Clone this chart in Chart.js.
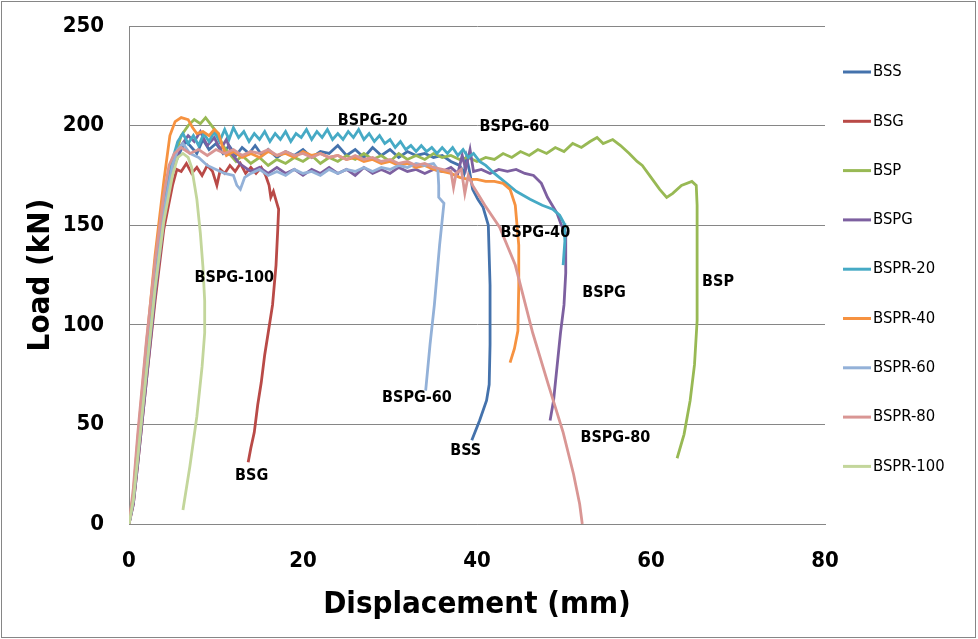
<!DOCTYPE html>
<html>
<head>
<meta charset="utf-8">
<script src="https://cdn.jsdelivr.net/npm/chart.js@4.4.0/dist/chart.umd.min.js"></script>
<style>
  html, body { margin: 0; padding: 0; background: #fff; }
  #wrap { width: 978px; height: 639px; position: relative; }
</style>
</head>
<body>
<div id="wrap"><canvas id="loadChart"></canvas></div>
<script>
// displacement (mm), load (kN) pairs
const BSS = [[0,0],[0.5,12],[1,35],[2,78],[3,120],[4,155],[5,178],[6,188],[6.5,192],[7,190],[7.8,186],[8.5,193],[9.2,188],[10,191],[10.8,186],[11.5,190],[12.3,185],[13,189],[13.8,186],[14.5,190],[15.3,185],[16,188],[17,184],[18,187],[19,185],[20,188],[21,184],[22,187],[23,186],[24,190],[25,185],[26,188],[27,184],[28,189],[29,185],[30,188],[31,184],[32,187],[33,185],[34,186],[35,184],[36,185],[37,182],[38,180],[38.5,176],[38.8,184],[39.1,178],[39.5,168],[40.1,163],[40.7,159],[41.3,150],[41.5,120],[41.5,90],[41.4,70],[41.1,62],[40.3,52],[39.4,42]];
const BSG = [[0,0],[0.5,10],[1,30],[2,72],[3,112],[4,148],[5,170],[5.5,178],[6,177],[6.6,181],[7.2,176],[7.8,179],[8.4,175],[9,180],[9.6,177],[10.1,170],[10.5,178],[11,176],[11.6,180],[12.2,177],[12.8,181],[13.4,176],[14,179],[14.6,176],[15.2,179],[15.7,175],[16.1,170],[16.3,164],[16.6,167],[17,161],[17.2,158],[17.1,148],[16.9,130],[16.5,110],[16,96],[15.6,85],[15.2,71],[14.8,60],[14.4,46],[14,38],[13.7,31]];
const BSP = [[0,0],[0.5,12],[1,32],[2,75],[3,118],[4,155],[5,180],[6,195],[6.8,200],[7.5,203],[8.2,201],[8.8,204],[9.5,200],[10.2,196],[10.8,190],[11.5,186],[12.3,182],[13,185],[14,181],[15,184],[16,180],[17,183],[18,181],[19,184],[20,182],[21,185],[22,181],[23,184],[24,182],[25,185],[26,183],[27,186],[28,183],[29,185],[30,182],[31,186],[32,183],[33,185],[34,183],[35,186],[36,184],[37,185],[38,183],[39,184],[40,182],[41,184],[42,183],[43,186],[44,184],[45,187],[46,185],[47,188],[48,186],[49,189],[50,187],[51,191],[52,189],[53,192],[53.8,194],[54.5,191],[55.6,193],[56.5,190],[57.5,186],[58.4,182],[59,180],[60,174],[61,168],[61.8,164],[62.5,166],[63.5,170],[64.7,172],[65.2,170],[65.3,160],[65.3,130],[65.3,102],[65,80],[64.5,62],[63.8,45],[63,33]];
const BSPG = [[0,0],[0.5,10],[1,30],[2,72],[3,115],[4,152],[5,178],[6,190],[6.8,195],[7.5,192],[8.2,197],[9,190],[9.8,194],[10.5,188],[11.2,193],[11.8,186],[12.5,182],[13,180],[14,177],[15,179],[16,176],[17,179],[18,176],[19,178],[20,175],[21,178],[22,176],[23,179],[24,176],[25,178],[26,175],[27,179],[28,176],[29,178],[30,176],[31,179],[32,177],[33,178],[34,176],[35,178],[36,177],[37,179],[37.8,176],[38.3,185],[38.7,178],[39.2,188],[39.6,177],[40.5,178],[41.5,176],[42.5,178],[43.5,177],[44.5,178],[45.5,176],[46.5,175],[47.4,171],[48.1,164],[49.2,156],[49.7,150],[50.2,146],[50.2,126],[50,110],[49.6,96],[49.2,79],[48.8,62],[48.4,52]];
const BSPR20 = [[0,0],[0.5,14],[1,38],[2,82],[3,125],[4,160],[5,183],[5.6,192],[6.2,196],[6.8,191],[7.4,195],[8,190],[8.6,196],[9.2,192],[9.8,197],[10.4,192],[11,198],[11.5,193],[12,199],[12.6,194],[13.2,197],[13.8,192],[14.4,196],[15,193],[15.6,197],[16.2,192],[16.8,196],[17.4,193],[18,197],[18.6,192],[19.2,196],[19.8,194],[20.4,198],[21,193],[21.6,197],[22.2,194],[22.8,198],[23.4,193],[24,196],[24.6,193],[25.2,197],[25.8,194],[26.4,198],[27,193],[27.6,196],[28.2,192],[28.8,195],[29.4,191],[30,193],[30.6,189],[31.2,192],[31.8,188],[32.4,190],[33,187],[33.6,190],[34.2,187],[34.8,189],[35.4,186],[36,189],[36.6,186],[37.2,189],[37.8,185],[38.4,188],[39,184],[39.6,186],[40.3,182],[41,180],[42,176],[43.4,171],[44.5,167],[46.1,163],[47.5,160],[48.7,158],[49.5,155],[50,151],[50.1,142],[49.9,130]];
const BSPR40 = [[0,0],[0.5,15],[1,42],[2,90],[3,135],[4,172],[4.7,195],[5.3,202],[6,204],[6.8,203],[7.3,199],[7.8,196],[8.5,197],[9.2,195],[9.8,198],[10.3,196],[10.7,190],[11.2,185],[12,187],[13,184],[14,186],[15,184],[16,187],[17,185],[18,186],[19,184],[20,187],[21,185],[22,186],[23,184],[24,185],[25,183],[26,184],[27,182],[28,183],[29,181],[30,182],[31,180],[32,181],[33,179],[34,180],[35,178],[36,177],[37,176],[38,174],[39,173],[40,173],[41,172],[42,172],[43,171],[43.8,168],[44.4,160],[44.8,140],[44.8,120],[44.7,97],[44.3,88],[43.8,81]];
const BSPR60 = [[0,0],[0.5,12],[1,34],[2,78],[3,120],[4,157],[5,180],[5.6,188],[6.2,191],[7,186],[8,184],[9,180],[10,178],[11,176],[12,175],[12.4,170],[12.8,168],[13.3,174],[14,176],[15,178],[16,175],[17,177],[18,175],[19,178],[20,176],[21,177],[22,175],[23,178],[24,176],[25,178],[26,177],[27,179],[28,177],[29,179],[30,178],[31,180],[32,179],[33,181],[34,180],[35,181],[35.5,178],[35.6,170],[35.6,164],[36.2,161],[35.7,140],[35.1,110],[34.6,90],[34.1,67]];
const BSPR80 = [[0,0],[0.5,18],[1,45],[2,92],[3,132],[4,165],[4.6,180],[5.2,186],[6,189],[7,186],[8,188],[9,185],[10,188],[11,186],[12,188],[13,185],[14,187],[15,186],[16,188],[17,185],[18,187],[19,185],[20,186],[21,184],[22,186],[23,184],[24,185],[25,183],[26,185],[27,183],[28,184],[29,182],[30,183],[31,181],[32,182],[33,180],[34,181],[35,179],[36,178],[37,177],[37.3,169],[37.6,176],[38.2,178],[38.6,166],[39,175],[39.5,170],[40.2,165],[40.9,160],[42.6,149],[44.4,130],[46.4,96],[48.2,70],[49.9,46],[51.1,25],[51.8,10],[52.1,0]];
const BSPR100 = [[0,0],[0.5,12],[1,33],[2,76],[3,118],[4,152],[5,175],[5.6,184],[6.2,186],[6.8,184],[7.2,179],[7.8,163],[8.2,146],[8.5,129],[8.7,112],[8.7,96],[8.4,79],[7.8,54],[7,29],[6.2,7]];

const seriesNames = ['BSS', 'BSG', 'BSP', 'BSPG', 'BSPR-20', 'BSPR-40', 'BSPR-60', 'BSPR-80', 'BSPR-100'];
const seriesData = [BSS, BSG, BSP, BSPG, BSPR20, BSPR40, BSPR60, BSPR80, BSPR100];
const seriesColors = ['#4472AC', '#B94A47', '#98B954', '#7D60A0', '#46AAC5', '#F69240', '#93B1D8', '#D99694', '#C3D69B'];

// labels written on the plot (text, displacement, load)
const noteText = ['BSPG-100', 'BSG', 'BSPG-20', 'BSPG-60', 'BSPG-40', 'BSPG', 'BSP', 'BSPG-60', 'BSS', 'BSPG-80'];
const noteX = [12.1, 14.1, 28.0, 44.3, 46.7, 54.6, 67.7, 33.1, 38.7, 55.9];
const noteY = [123.5, 24.1, 202.3, 199.3, 146, 116, 121.5, 63.3, 36.6, 43.2];

const xTicks = [0, 20, 40, 60, 80];
const yTicks = [0, 50, 100, 150, 200, 250];

const FONT = '"DejaVu Sans Condensed", "DejaVu Sans", sans-serif';
const GRID = '#868686';

const datasets = seriesNames.map((name, i) => ({
    label: name,
    data: seriesData[i].map(p => ({ x: p[0], y: p[1] })),
    borderColor: seriesColors[i],
    backgroundColor: seriesColors[i],
    borderWidth: 2.8,
    pointRadius: 0,
    showLine: true,
    tension: 0,
    order: seriesNames.length - i
}));

// outer frame of the whole picture
const frame = {
    id: 'frame',
    beforeDraw(chart) {
        const ctx = chart.ctx;
        ctx.save();
        ctx.fillStyle = '#fff';
        ctx.fillRect(0, 0, chart.width, chart.height);
        ctx.strokeStyle = GRID;
        ctx.lineWidth = 1;
        ctx.strokeRect(1.5, 1.5, chart.width - 4, chart.height - 3);
        ctx.restore();
    }
};

// text labels placed on the curves
const notes = {
    id: 'notes',
    afterDatasetsDraw(chart) {
        const ctx = chart.ctx;
        const xs = chart.scales.x, ys = chart.scales.y;
        ctx.save();
        ctx.font = 'bold 16px ' + FONT;
        ctx.fillStyle = '#000';
        ctx.textAlign = 'center';
        ctx.textBaseline = 'middle';
        noteText.forEach((t, i) => {
            ctx.fillText(t, xs.getPixelForValue(noteX[i]), ys.getPixelForValue(noteY[i]));
        });
        ctx.restore();
    }
};

// legend column on the right, Excel style
const sideLegend = {
    id: 'sideLegend',
    afterDraw(chart) {
        const ctx = chart.ctx;
        ctx.save();
        ctx.font = '16.5px ' + FONT;
        ctx.textBaseline = 'middle';
        ctx.textAlign = 'left';
        chart.data.datasets.forEach((ds, i) => {
            const y = 72 + i * 49.3;
            ctx.strokeStyle = ds.borderColor;
            ctx.lineWidth = 3;
            ctx.beginPath();
            ctx.moveTo(843, y);
            ctx.lineTo(871, y);
            ctx.stroke();
            ctx.fillStyle = '#000';
            ctx.fillText(ds.label, 873, y);
        });
        ctx.restore();
    }
};

new Chart(document.getElementById('loadChart'), {
    type: 'scatter',
    data: { datasets },
    options: {
        responsive: true,
        maintainAspectRatio: false,
        animation: false,
        layout: { padding: { top: 26, right: 153, bottom: 0, left: 0 } },
        plugins: {
            legend: { display: false },
            tooltip: { enabled: false }
        },
        scales: {
            x: {
                type: 'linear',
                min: xTicks[0],
                max: xTicks[xTicks.length - 1],
                afterBuildTicks: s => { s.ticks = xTicks.map(v => ({ value: v })); },
                afterFit: s => { s.height = 115; s.paddingLeft = 0; s.paddingRight = 0; },
                ticks: { color: '#000', padding: 16, font: { family: FONT, size: 22, weight: 'bold' } },
                grid: { display: false },
                border: { display: true, color: GRID, width: 1 },
                title: {
                    display: true,
                    text: 'Displacement (mm)',
                    color: '#000',
                    font: { family: FONT, size: 31, weight: 'bold' },
                    padding: { top: 0, bottom: 15 }
                }
            },
            y: {
                min: yTicks[0],
                max: yTicks[yTicks.length - 1],
                afterBuildTicks: s => { s.ticks = yTicks.map(v => ({ value: v })); },
                afterFit: s => { s.width = 129; s.paddingTop = 0; s.paddingBottom = 0; },
                ticks: { color: '#000', padding: 25, font: { family: FONT, size: 22, weight: 'bold' } },
                grid: { color: GRID, lineWidth: 1, drawTicks: false },
                border: { display: true, color: GRID, width: 1 },
                title: {
                    display: true,
                    text: 'Load (kN)',
                    color: '#000',
                    font: { family: FONT, size: 31, weight: 'bold' },
                    padding: { top: 22, bottom: 0 }
                }
            }
        }
    },
    plugins: [frame, notes, sideLegend]
});
</script>
</body>
</html>
